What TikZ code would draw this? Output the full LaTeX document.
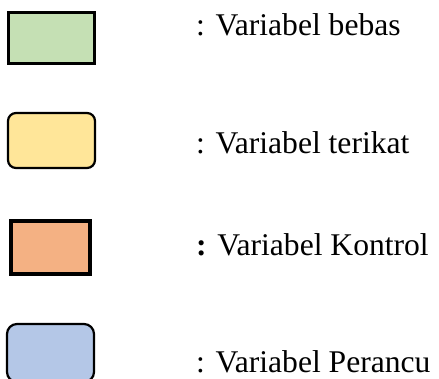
\documentclass[tikz,border=0pt]{standalone}
\usepackage{fontspec}
\setmainfont{Liberation Serif}
\definecolor{bebasfill}{HTML}{C5E0B4}
\definecolor{terikatfill}{HTML}{FFE699}
\definecolor{kontrolfill}{HTML}{F4B183}
\definecolor{perancufill}{HTML}{B4C7E7}
\begin{document}
\begin{tikzpicture}[x=1pt,y=-1pt,
  legendbox/.style={draw=black,line width=#1},
  legendtext/.style={anchor=base west,inner sep=0pt,font=\fontsize{31.6}{36}\selectfont}]
  \useasboundingbox (0,0) rectangle (439,378);
  % legend swatches
  \draw[legendbox=3pt,fill=bebasfill] (8.5,12.5) rectangle (94.5,63.5);
  \draw[legendbox=2.2pt,fill=terikatfill,rounded corners=8pt] (8,113) rectangle (95,168);
  \draw[legendbox=4pt,fill=kontrolfill] (11,221) rectangle (90,274);
  \draw[legendbox=2.2pt,fill=perancufill,rounded corners=10pt] (7,324) rectangle (94,382);
  % legend labels
  \node[legendtext] (tbebas) at (196,35) {: Variabel bebas};
  \node[legendtext] (tterikat) at (196,153) {: Variabel terikat};
  \node[legendtext] (tkontrol) at (196,255) {\textbf{:} Variabel Kontrol};
  \node[legendtext] (tperancu) at (196,372) {: Variabel Perancu};
\end{tikzpicture}
\end{document}
